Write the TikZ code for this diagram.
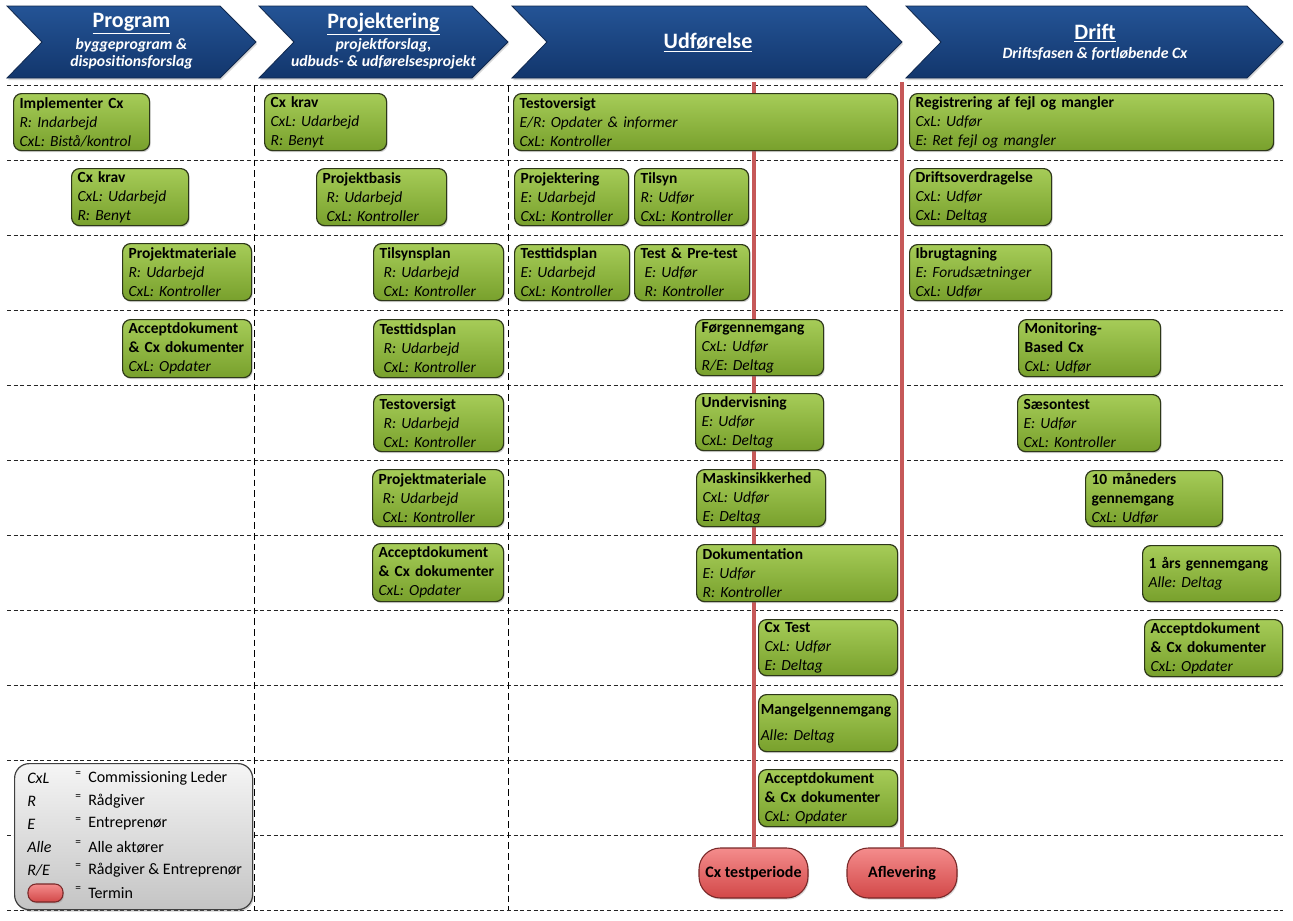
\documentclass[tikz,border=0pt]{standalone}
\usepackage{fontspec}
\setmainfont{Carlito}
\frenchspacing
\hfuzz=40pt
\hbadness=10000
\usetikzlibrary{shadows}
\definecolor{gtop}{RGB}{166,204,88}
\definecolor{gbot}{RGB}{120,160,44}
\definecolor{boxline}{RGB}{45,55,25}
\definecolor{htop}{RGB}{36,84,150}
\definecolor{hbot}{RGB}{18,54,108}
\definecolor{hline}{RGB}{16,40,78}
\definecolor{rtop}{RGB}{244,140,140}
\definecolor{rbot}{RGB}{210,72,72}
\definecolor{rline}{RGB}{120,40,40}
\definecolor{redln}{RGB}{198,88,88}
\definecolor{ltop}{RGB}{245,245,245}
\definecolor{lbot}{RGB}{196,196,196}
\newcommand\cxT[1]{\mbox{\textbf{#1}}}
\newcommand\cxR[1]{\mbox{\textit{#1}}}
\newcommand\cxb[7][]{%
 \pgfmathsetmacro\cxw{(#5-#3)*0.75}%
 \pgfmathsetmacro\cxh{(#6-#4)*0.75}%
 \pgfmathsetmacro\cxtw{(#5-#3)*0.75-9}%
 \node[cxbox,minimum width=\cxw pt,minimum height=\cxh pt,text width=\cxtw pt,#1] (#2) at (#3,#4) {#7};}
\tikzset{
 cxbox/.style={draw=boxline,line width=0.9pt,rounded corners=6pt,top color=gtop,bottom color=gbot,
   anchor=north west,align=left,inner xsep=4.5pt,inner ysep=0pt,
   font=\fontsize{11.6}{14.25}\selectfont,
   drop shadow={shadow xshift=0.8pt,shadow yshift=-1.2pt,opacity=0.35}},
 chev/.style={draw=hline,line width=0.6pt,top color=htop,bottom color=hbot,
   drop shadow={shadow xshift=0.8pt,shadow yshift=-1.5pt,opacity=0.3}},
 htitle/.style={text=white,font=\fontsize{16.5}{18}\selectfont\bfseries,inner sep=0pt},
 hsub/.style={text=white,align=center,font=\fontsize{11.8}{12.75}\selectfont\bfseries\itshape,inner sep=0pt},
 termin/.style={draw=rline,line width=0.8pt,rounded corners=16pt,top color=rtop,bottom color=rbot,
   font=\fontsize{12}{14}\selectfont\bfseries,
   drop shadow={shadow xshift=0.8pt,shadow yshift=-1.2pt,opacity=0.3}},
 redline/.style={draw=redln,line width=3pt},
 hdash/.style={draw=black!85,line width=0.6pt,dash pattern=on 3pt off 2pt},
 vdash/.style={draw=black,line width=1.1pt,dash pattern=on 5pt off 3pt},
 legbox/.style={draw=black!75,line width=0.9pt,rounded corners=11pt,top color=ltop,bottom color=lbot,
   anchor=north west,drop shadow={shadow xshift=0.8pt,shadow yshift=-1.5pt,opacity=0.35}},
 legk/.style={anchor=west,inner sep=0pt,font=\fontsize{12}{14}\selectfont\itshape},
 legv/.style={anchor=west,inner sep=0pt,font=\fontsize{12}{14}\selectfont},
 lege/.style={anchor=west,inner sep=0pt,font=\fontsize{8.5}{9}\selectfont},
}
\begin{document}
\begin{tikzpicture}[x=0.75pt,y=-0.75pt]
\useasboundingbox (0,0) rectangle (1293,921);
\fill[white] (0,0) rectangle (1293,921);
% grid
\foreach \yy in {85,160,...,910} \draw[hdash] (7,\yy) -- (1283,\yy);
\draw[vdash] (254.5,85) -- (254.5,910);
\draw[vdash] (508.5,85) -- (508.5,910);
% header chevrons
\path[chev] (7,6) -- (220,6) -- (256,42) -- (220,78) -- (7,78) -- (42,42) -- cycle;
\path[chev] (259,6) -- (472,6) -- (508,42) -- (472,78) -- (259,78) -- (294,42) -- cycle;
\path[chev] (512,6) -- (866,6) -- (902,42) -- (866,78) -- (512,78) -- (547,42) -- cycle;
\path[chev] (906,6) -- (1247,6) -- (1283,42) -- (1247,78) -- (906,78) -- (941,42) -- cycle;
\node[htitle] (hprog) at (131.5,24) {\underline{Program}};
\node[hsub] (hprogs) at (131.5,53.5) {byggeprogram \&\\dispositionsforslag};
\node[htitle] (hproj) at (383.5,24) {\underline{Projektering}};
\node[hsub] (hprojs) at (383.5,53.5) {projektforslag,\\udbuds- \& udførelsesprojekt};
\node[htitle] (hudf) at (708,43) {\underline{Udførelse}};
\node[htitle] (hdrift) at (1095,33) {\underline{Drift}};
\node[hsub] (hdrifts) at (1095,54) {Driftsfasen \& fortløbende Cx};
% termin
\node[termin,minimum width=81.75pt,minimum height=37.5pt] (ct) at (753.5,873) {Cx testperiode};
\node[termin,minimum width=82.5pt,minimum height=37.5pt] (afl) at (902,873) {Aflevering};
\coordinate (r1) at (753.5,82);
\coordinate (r2) at (902,82);
\draw[redline] (r1) -- (ct.north);
\draw[redline] (r2) -- (afl.north);
% Program
\cxb{pb1}{13}{93}{149}{150}{\cxT{Implementer Cx}\\\cxR{R: Indarbejd}\\\cxR{CxL: Bistå/kontrol}}
\cxb{pb2}{71}{168}{188}{225}{\cxT{Cx krav}\\\cxR{CxL: Udarbejd}\\\cxR{R: Benyt}}
\cxb{pb3}{122}{243}{251}{300}{\cxT{Projektmateriale}\\\cxR{R: Udarbejd}\\\cxR{CxL: Kontroller}}
\cxb{pb4}{122}{319}{251}{377}{\cxT{Acceptdokument}\\\cxT{\& Cx dokumenter}\\\cxR{CxL: Opdater}}
% Projektering
\cxb{jb1}{264}{93}{386}{150}{\cxT{Cx krav}\\\cxR{CxL: Udarbejd}\\\cxR{R: Benyt}}
\cxb{jb2}{316}{168}{446}{225}{\cxT{Projektbasis}\\\cxR{\hspace*{3pt}R: Udarbejd}\\\cxR{\hspace*{3pt}CxL: Kontroller}}
\cxb{jb3}{373}{243}{503}{300}{\cxT{Tilsynsplan}\\\cxR{\hspace*{3pt}R: Udarbejd}\\\cxR{\hspace*{3pt}CxL: Kontroller}}
\cxb{jb4}{373}{319}{503}{377}{\cxT{Testtidsplan}\\\cxR{\hspace*{3pt}R: Udarbejd}\\\cxR{\hspace*{3pt}CxL: Kontroller}}
\cxb{jb5}{373}{394}{503}{451}{\cxT{Testoversigt}\\\cxR{\hspace*{3pt}R: Udarbejd}\\\cxR{\hspace*{3pt}CxL: Kontroller}}
\cxb{jb6}{372}{469}{503}{526}{\cxT{Projektmateriale}\\\cxR{\hspace*{3pt}R: Udarbejd}\\\cxR{\hspace*{3pt}CxL: Kontroller}}
\cxb{jb7}{372}{543}{503}{601}{\cxT{Acceptdokument}\\\cxT{\& Cx dokumenter}\\\cxR{CxL: Opdater}}
% Udfoerelse
\cxb{ub1}{513}{93}{897}{150}{\cxT{Testoversigt}\\\cxR{E/R: Opdater \& informer}\\\cxR{CxL: Kontroller}}
\cxb{ub2}{514}{168}{628}{225}{\cxT{Projektering}\\\cxR{E: Udarbejd}\\\cxR{CxL: Kontroller}}
\cxb{ub3}{634}{168}{748}{225}{\cxT{Tilsyn}\\\cxR{R: Udfør}\\\cxR{CxL: Kontroller}}
\cxb{ub4}{514}{244}{629}{300}{\cxT{Testtidsplan}\\\cxR{E: Udarbejd}\\\cxR{CxL: Kontroller}}
\cxb{ub5}{634}{244}{749}{300}{\cxT{Test \& Pre-test}\\\cxR{\hspace*{3pt}E: Udfør}\\\cxR{\hspace*{3pt}R: Kontroller}}
\cxb{ub6}{695}{319}{823}{375}{\cxT{Førgennemgang}\\\cxR{CxL: Udfør}\\\cxR{R/E: Deltag}}
\cxb{ub7}{695}{393}{823}{450}{\cxT{Undervisning}\\\cxR{E: Udfør}\\\cxR{CxL: Deltag}}
\cxb{ub8}{696}{469}{825}{526}{\cxT{Maskinsikkerhed}\\\cxR{CxL: Udfør}\\\cxR{E: Deltag}}
\cxb{ub9}{696}{544}{897}{601}{\cxT{Dokumentation}\\\cxR{E: Udfør}\\\cxR{R: Kontroller}}
\cxb{ub10}{758}{619}{897}{675}{\cxT{Cx Test}\\\cxR{CxL: Udfør}\\\cxR{E: Deltag}}
\cxb[inner xsep=1.5pt,text width=101pt]{ub11}{758}{694}{897}{751}{\cxT{Mangelgennemgang}\\[5pt]\cxR{Alle: Deltag}}
\cxb{ub12}{758}{769}{897}{826}{\cxT{Acceptdokument}\\\cxT{\& Cx dokumenter}\\\cxR{CxL: Opdater}}
% Drift
\cxb{db1}{909}{93}{1273}{150}{\cxT{Registrering af fejl og mangler}\\\cxR{CxL: Udfør}\\\cxR{E: Ret fejl og mangler}}
\cxb{db2}{909}{168}{1051}{225}{\cxT{Driftsoverdragelse}\\\cxR{CxL: Udfør}\\\cxR{CxL: Deltag}}
\cxb{db3}{909}{244}{1051}{300}{\cxT{Ibrugtagning}\\\cxR{E: Forudsætninger}\\\cxR{CxL: Udfør}}
\cxb{db4}{1018}{319}{1160}{376}{\cxT{Monitoring-}\\\cxT{Based Cx}\\\cxR{CxL: Udfør}}
\cxb{db5}{1017}{394}{1160}{451}{\cxT{Sæsontest}\\\cxR{E: Udfør}\\\cxR{CxL: Kontroller}}
\cxb{db6}{1085}{470}{1222}{526}{\cxT{10 måneders}\\\cxT{gennemgang}\\\cxR{CxL: Udfør}}
\cxb{db7}{1142}{545}{1280}{601}{\cxT{1 års gennemgang}\\\cxR{Alle: Deltag}}
\cxb{db8}{1144}{619}{1282}{676}{\cxT{Acceptdokument}\\\cxT{\& Cx dokumenter}\\\cxR{CxL: Opdater}}
% legend
\node[legbox,minimum width=178.5pt,minimum height=109.5pt] (leg) at (14,763) {};
\node[legk] (k1) at (27,778) {CxL};
\node[legk] (k2) at (27,801) {R};
\node[legk] (k3) at (27,824) {E};
\node[legk] (k4) at (27,847) {Alle};
\node[legk] (k5) at (27,870) {R/E};
\node[termin,minimum width=26.25pt,minimum height=13.5pt,rounded corners=6pt,inner sep=0pt] (k6) at (45.5,893) {};
\foreach \i/\yy in {1/778,2/801,3/824,4/847,5/870,6/893}
  \node[lege] (e\i) at (75,\yy-4) {=};
\node[legv] (v1) at (88,778) {Commissioning Leder};
\node[legv] (v2) at (88,801) {Rådgiver};
\node[legv] (v3) at (88,824) {Entreprenør};
\node[legv] (v4) at (88,847) {Alle aktører};
\node[legv] (v5) at (88,870) {Rådgiver \& Entreprenør};
\node[legv] (v6) at (88,893) {Termin};
\end{tikzpicture}
\end{document}
